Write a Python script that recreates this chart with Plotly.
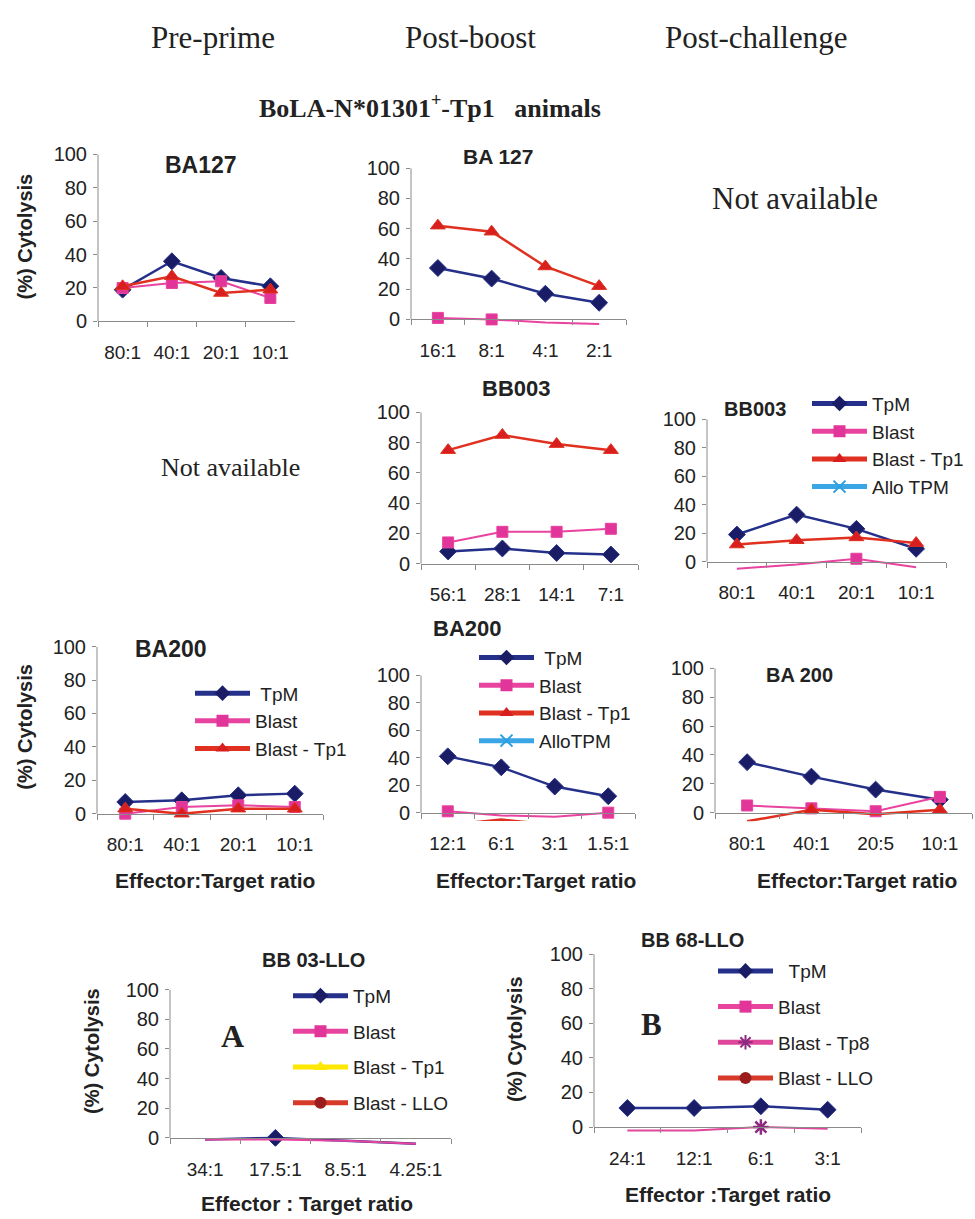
import plotly.graph_objects as go

# ---------------- data ----------------
# Panel 1: BA127 pre-prime
ba127_pre_ratios = ["80:1", "40:1", "20:1", "10:1"]
ba127_pre_tpm = [19, 36, 26, 21]
ba127_pre_blast = [20, 23, 24, 14]
ba127_pre_tp1 = [21, 27, 17, 19]

# Panel 2: BA 127 post-boost
ba127_post_ratios = ["16:1", "8:1", "4:1", "2:1"]
ba127_post_tpm = [34, 27, 17, 11]
ba127_post_blast = [1, 0, -2, -3]
ba127_post_tp1 = [62, 58, 35, 22]

# Panel 3: BB003 post-boost
bb003_post_ratios = ["56:1", "28:1", "14:1", "7:1"]
bb003_post_tpm = [8, 10, 7, 6]
bb003_post_blast = [14, 21, 21, 23]
bb003_post_tp1 = [75, 85, 79, 75]

# Panel 4: BB003 post-challenge
bb003_ch_ratios = ["80:1", "40:1", "20:1", "10:1"]
bb003_ch_tpm = [19, 33, 23, 9]
bb003_ch_blast = [-5, -2, 2, -4]
bb003_ch_tp1 = [12, 15, 17, 13]
bb003_ch_allo = [None, None, None, None]

# Panel 5: BA200 pre-prime
ba200_pre_ratios = ["80:1", "40:1", "20:1", "10:1"]
ba200_pre_tpm = [7, 8, 11, 12]
ba200_pre_blast = [0, 4, 5, 4]
ba200_pre_tp1 = [3, 0, 3, 3]

# Panel 6: BA200 post-boost
ba200_post_ratios = ["12:1", "6:1", "3:1", "1.5:1"]
ba200_post_tpm = [41, 33, 19, 12]
ba200_post_blast = [1, -2, -3, 0]
ba200_post_tp1 = [-9, -5, -9, -9]
ba200_post_allo = [None, None, None, None]

# Panel 7: BA 200 post-challenge
ba200_ch_ratios = ["80:1", "40:1", "20:5", "10:1"]
ba200_ch_tpm = [35, 25, 16, 9]
ba200_ch_blast = [5, 3, 1, 11]
ba200_ch_tp1 = [-6, 2, -1, 2]

# Panel 8: BB 03-LLO (A)
bb03_llo_ratios = ["34:1", "17.5:1", "8.5:1", "4.25:1"]
bb03_llo_tpm = [-1, 0, -2, -4]
bb03_llo_blast = [-1, -1, -2, -4]
bb03_llo_tp1 = [None, None, None, None]
bb03_llo_llo = [None, None, None, None]

# Panel 9: BB 68-LLO (B)
bb68_llo_ratios = ["24:1", "12:1", "6:1", "3:1"]
bb68_llo_tpm = [11, 11, 12, 10]
bb68_llo_blast = [None, None, None, None]
bb68_llo_tp8 = [-2, -2, 0, -1]
bb68_llo_llo = [None, None, None, None]

# ---------------- styling / layout ----------------
W, H = 975, 1219
YMIN = -6
SANS = "Liberation Sans, Arial, sans-serif"
SERIF = "Liberation Serif, Times New Roman, serif"
AXC = "#8a8a8a"
TXT = "#222222"

STY = {
    "TpM": dict(symbol="diamond", mcolor="#1a1d66", lcolor="#25308a", size=13, lw=2.5),
    "Blast": dict(symbol="square", mcolor="#e2359a", lcolor="#e8439f", size=11, lw=2),
    "Blast - Tp1": dict(symbol="triangle-up", mcolor="#d81e1e", lcolor="#e0301f", size=13, lw=2.5),
    "Blast - Tp1 (y)": dict(symbol="triangle-up", mcolor="#ffe800", lcolor="#ffe800", size=13, lw=2),
    "Allo TPM": dict(symbol="x-thin-open", mcolor="#2b9fe0", lcolor="#3aa6e6", size=12, lw=2),
    "Blast - LLO": dict(symbol="circle", mcolor="#9a1c1c", lcolor="#d83a2a", size=12, lw=2),
    "Blast - Tp8": dict(symbol="asterisk-open", mcolor="#8e2a7f", lcolor="#e0479a", size=13, lw=2),
}

# (x_left, x_right, y_at_100, y_at_0) in pixels
GEOM = {
    1: (98, 295, 145, 314),
    2: (411, 626, 159, 312),
    3: (421, 638, 406, 559),
    4: (707, 946, 413, 557),
    5: (97, 323, 643, 812),
    6: (421, 635, 672, 811),
    7: (715, 972, 665, 811),
    8: (170, 451, 990, 1140),
    9: (594, 861, 954, 1129),
}

fig = go.Figure()
layout = {}
shapes = []


def marker_of(st, size):
    mk = dict(symbol=st["symbol"], size=size, color=st["mcolor"], opacity=1)
    if "open" in st["symbol"]:
        mk["line"] = dict(color=st["mcolor"], width=2.5)
    return mk


def add_panel(i, cats, series, legend_name=None):
    xl, xr, y100, y0 = GEOM[i]
    s = (y0 - y100) / 100.0
    ybot = y0 - YMIN * s
    xn = "x" if i == 1 else f"x{i}"
    yn = "y" if i == 1 else f"y{i}"
    xk = "xaxis" if i == 1 else f"xaxis{i}"
    yk = "yaxis" if i == 1 else f"yaxis{i}"
    layout[xk] = dict(
        domain=[xl / W, xr / W], anchor="free", position=1 - y0 / H,
        type="category", range=[-0.5, len(cats) - 0.5],
        tickson="boundaries", ticks="outside", ticklen=5, tickcolor=AXC,
        showline=True, linecolor=AXC, linewidth=1, showgrid=False, zeroline=False,
        tickfont=dict(family=SANS, size=19, color=TXT), ticklabelstandoff=14,
        fixedrange=True,
    )
    layout[yk] = dict(
        domain=[1 - ybot / H, 1 - y100 / H], anchor=xn,
        range=[YMIN, 100], tick0=0, dtick=20, ticks="outside", ticklen=4,
        tickcolor=AXC, showline=False, showgrid=False, zeroline=False,
        tickfont=dict(family=SANS, size=20, color=TXT), ticklabelstandoff=2,
        fixedrange=True,
    )
    shapes.append(dict(type="line", xref=f"{xn} domain", x0=0, x1=0,
                       yref=yn, y0=0, y1=100, line=dict(color=AXC, width=1)))
    for name, key, vals in series:
        st = STY[key]
        sizes = [st["size"] if (v is None or v >= 0) else 0 for v in vals]
        fig.add_trace(go.Scatter(
            x=cats, y=vals, mode="lines+markers", name=name,
            xaxis=xn, yaxis=yn, marker=marker_of(st, sizes),
            line=dict(color=st["lcolor"], width=st["lw"]),
            showlegend=False, hoverinfo="skip",
        ))
    if legend_name:
        # legend keys (no data points)
        for k, (name, key, vals) in enumerate(series):
            st = STY[key]
            fig.add_trace(go.Scatter(
                x=[None], y=[None], mode="lines+markers", name=name,
                xaxis=xn, yaxis=yn, marker=marker_of(st, st["size"]),
                line=dict(color=st["lcolor"], width=st["lw"]),
                showlegend=True, legend=legend_name,
                legendgroup=f"{legend_name}_{k}", hoverinfo="skip",
            ))


add_panel(1, ba127_pre_ratios, [
    ("TpM", "TpM", ba127_pre_tpm), ("Blast", "Blast", ba127_pre_blast),
    ("Blast - Tp1", "Blast - Tp1", ba127_pre_tp1)])
add_panel(2, ba127_post_ratios, [
    ("TpM", "TpM", ba127_post_tpm), ("Blast", "Blast", ba127_post_blast),
    ("Blast - Tp1", "Blast - Tp1", ba127_post_tp1)])
add_panel(3, bb003_post_ratios, [
    ("TpM", "TpM", bb003_post_tpm), ("Blast", "Blast", bb003_post_blast),
    ("Blast - Tp1", "Blast - Tp1", bb003_post_tp1)])
add_panel(4, bb003_ch_ratios, [
    ("TpM", "TpM", bb003_ch_tpm), ("Blast", "Blast", bb003_ch_blast),
    ("Blast - Tp1", "Blast - Tp1", bb003_ch_tp1), ("Allo TPM", "Allo TPM", bb003_ch_allo)],
    legend_name="legend")
add_panel(5, ba200_pre_ratios, [
    ("\u00a0TpM", "TpM", ba200_pre_tpm), ("Blast", "Blast", ba200_pre_blast),
    ("Blast - Tp1", "Blast - Tp1", ba200_pre_tp1)], legend_name="legend2")
add_panel(6, ba200_post_ratios, [
    ("\u00a0TpM", "TpM", ba200_post_tpm), ("Blast", "Blast", ba200_post_blast),
    ("Blast - Tp1", "Blast - Tp1", ba200_post_tp1), ("AlloTPM", "Allo TPM", ba200_post_allo)],
    legend_name="legend3")
add_panel(7, ba200_ch_ratios, [
    ("TpM", "TpM", ba200_ch_tpm), ("Blast", "Blast", ba200_ch_blast),
    ("Blast - Tp1", "Blast - Tp1", ba200_ch_tp1)])
add_panel(8, bb03_llo_ratios, [
    ("TpM", "TpM", bb03_llo_tpm), ("Blast", "Blast", bb03_llo_blast),
    ("Blast - Tp1", "Blast - Tp1 (y)", bb03_llo_tp1), ("Blast - LLO", "Blast - LLO", bb03_llo_llo)],
    legend_name="legend4")
add_panel(9, bb68_llo_ratios, [
    ("\u00a0\u00a0TpM", "TpM", bb68_llo_tpm), ("Blast", "Blast", bb68_llo_blast),
    ("Blast - Tp8", "Blast - Tp8", bb68_llo_tp8), ("Blast - LLO", "Blast - LLO", bb68_llo_llo)],
    legend_name="legend5")


def legend_cfg(sym_x, first_y, gap):
    return dict(
        x=(sym_x - 5) / W, y=1 - (first_y - 18) / H, xanchor="left", yanchor="top",
        bgcolor="rgba(0,0,0,0)", borderwidth=0, itemwidth=55, itemsizing="constant",
        traceorder="grouped", tracegroupgap=gap,
        font=dict(family=SANS, size=19, color=TXT), itemclick=False, itemdoubleclick=False,
    )


layout["legend"] = legend_cfg(812, 396, 0)
layout["legend2"] = legend_cfg(195, 689, 0)
layout["legend3"] = legend_cfg(479, 653, 0)
layout["legend4"] = legend_cfg(293, 995, 8)
layout["legend5"] = legend_cfg(718, 970, 8)

ann = []


def txt(s, x, y, size, family=SANS, bold=False, angle=0, color=TXT):
    ann.append(dict(text=f"<b>{s}</b>" if bold else s, x=x / W, y=1 - y / H,
                    xref="paper", yref="paper", xanchor="center", yanchor="middle",
                    showarrow=False, textangle=angle,
                    font=dict(family=family, size=size, color=color)))


# headers
txt("Pre-prime", 213, 27, 31, SERIF)
txt("Post-boost", 470, 27, 31, SERIF)
txt("Post-challenge", 756, 27, 31, SERIF)
txt("BoLA-N*01301<sup>+</sup>-Tp1&nbsp;&nbsp; animals", 430, 97, 26, SERIF, bold=True)
txt("Not available", 795, 190, 31, SERIF)
txt("Not available", 230, 462, 26, SERIF)

# panel titles
txt("BA127", 201, 156, 23, bold=True)
txt("BA 127", 498, 147, 21, bold=True)
txt("BB003", 516, 382, 22, bold=True)
txt("BB003", 755, 403, 20, bold=True)
txt("BA200", 171, 645, 23, bold=True)
txt("BA200", 467, 625, 22, bold=True)
txt("BA 200", 799, 672, 20, bold=True)
txt("BB 03-LLO", 313, 960, 20, bold=True)
txt("BB 68-LLO", 692, 940, 20, bold=True)
txt("A", 232, 1037, 32, SERIF, bold=True)
txt("B", 651, 1025, 31, SERIF, bold=True)

# axis titles
txt("(%) Cytolysis", 25, 228, 20, bold=True, angle=-90)
txt("(%) Cytolysis", 25, 724, 20, bold=True, angle=-90)
txt("(%) Cytolysis", 92, 1052, 20, bold=True, angle=-90)
txt("(%) Cytolysis", 515, 1040, 20, bold=True, angle=-90)
txt("Effector:Target ratio", 215, 880, 21, bold=True)
txt("Effector:Target ratio", 536, 880, 21, bold=True)
txt("Effector:Target ratio", 857, 880, 21, bold=True)
txt("Effector : Target ratio", 307, 1206, 21, bold=True)
txt("Effector :Target ratio", 728, 1197, 21, bold=True)

layout.update(dict(
    width=W, height=H, margin=dict(l=0, r=0, t=0, b=0),
    paper_bgcolor="white", plot_bgcolor="rgba(0,0,0,0)",
    annotations=ann, shapes=shapes, hovermode=False,
))
fig.update_layout(**layout)
fig.write_html("out.html", config={"displayModeBar": False},
               post_script="document.body.style.margin='0px';document.body.style.overflow='hidden';")
